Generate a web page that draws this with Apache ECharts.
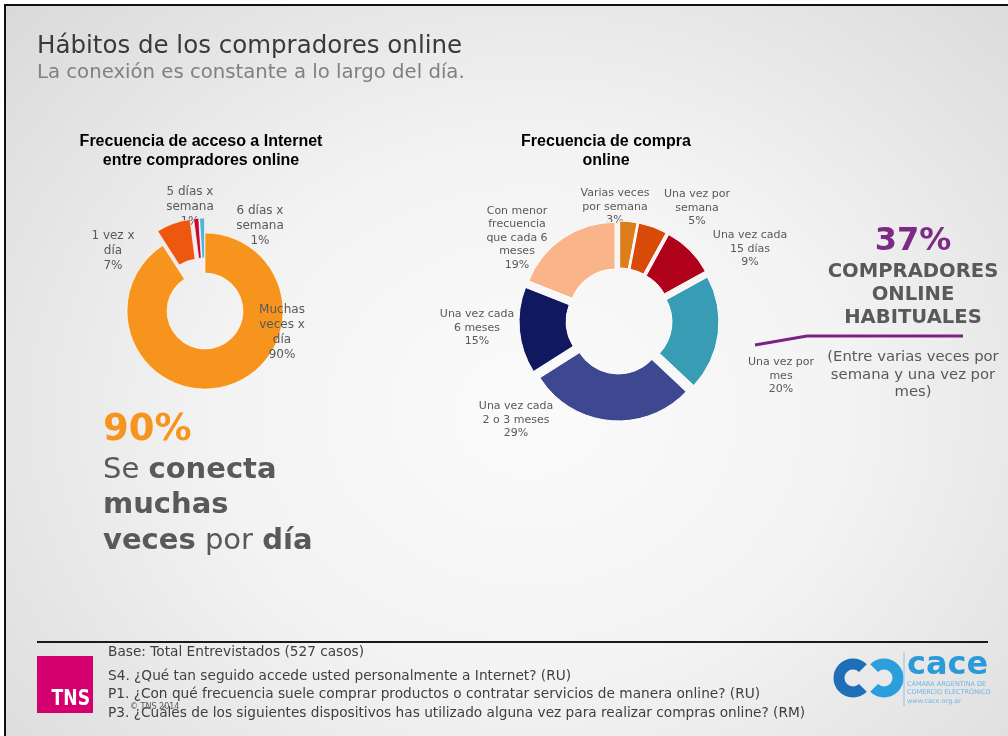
<!DOCTYPE html>
<html>
<head>
<meta charset="utf-8">
<title>Hábitos de los compradores online</title>
<script src="https://cdn.jsdelivr.net/npm/echarts@6/dist/echarts.min.js"></script>
<style>
html, body { margin: 0; padding: 0; width: 1008px; height: 736px; overflow: hidden; background: #fff; }
.slide {
    position: absolute; left: 4px; top: 4px; width: 1010px; height: 740px;
    border-left: 2px solid #111; border-top: 2px solid #111;
    background: radial-gradient(ellipse 70% 80% at 52% 55%, #fbfbfb 0%, #f3f3f3 45%, #dadada 100%);
}
#main { position: absolute; left: 0; top: 0; width: 1008px; height: 736px; }
</style>
</head>
<body>
<div class="slide"></div>
<div id="main"></div>
<script>
// datos: frecuencia de acceso a Internet
const accesoNombres = ['Muchas\nveces x\ndía', '1 vez x\ndía', '5 días x\nsemana', '6 días x\nsemana'];
const accesoValores = [90, 7, 1, 1];

// datos: frecuencia de compra online
const compraNombres = [
    'Varias veces\npor semana',
    'Una vez por\nsemana',
    'Una vez cada\n15 días',
    'Una vez por\nmes',
    'Una vez cada\n2 o 3 meses',
    'Una vez cada\n6 meses',
    'Con menor\nfrecuencia\nque cada 6\nmeses'
];
const compraValores = [3, 5, 9, 20, 29, 15, 19];

// estilo
const accesoColores = ['#F7941E', '#EE570F', '#C4082F', '#4DB6D6'];
const compraColores = ['#DC7F1B', '#D84A08', '#B0011B', '#389DB4', '#3D4891', '#10185F', '#F9B48A'];
const accesoSeparados = [false, true, true, true];
const accesoEtiquetas = [[282, 332], [113, 251], [190, 207], [260, 226]];
const compraEtiquetas = [[615, 207], [697, 208], [750, 249], [781, 376], [516, 420], [477, 328], [517, 238]];

const GRIS = '#595959';
const FUENTE = '"DejaVu Sans", Verdana, sans-serif';

const mychart = echarts.init(document.getElementById('main'));

const txt = (x, y, text, font, fill, align, extra) => ({
    type: 'text', x: x, y: y, silent: true,
    style: Object.assign({ text: text, font: font, fill: fill, align: align || 'left', verticalAlign: 'middle' }, extra || {})
});

// anillo con porciones separadas (sin etiquetas)
const anillo = (center, radius, offset, nombres, valores, colores, separados, borde) => ({
    type: 'pie',
    center: center,
    radius: radius,
    startAngle: 90,
    clockwise: true,
    selectedMode: 'multiple',
    selectedOffset: offset,
    silent: true,
    itemStyle: { borderColor: '#fff', borderWidth: borde },
    label: { show: false },
    labelLine: { show: false },
    data: nombres.map((n, i) => ({
        name: n, value: valores[i], selected: separados[i],
        itemStyle: { color: colores[i] }
    }))
});

// mismo anillo, transparente, solo para las etiquetas
const etiquetas = (center, radius, nombres, valores, pos, size, lh) => ({
    type: 'pie',
    center: center,
    radius: radius,
    startAngle: 90,
    clockwise: true,
    silent: true,
    avoidLabelOverlap: false,
    itemStyle: { color: 'transparent', borderWidth: 0 },
    label: {
        show: true, position: 'outside', color: GRIS,
        fontFamily: 'DejaVu Sans', fontSize: size, lineHeight: lh,
        formatter: p => p.name + '\n' + p.value + '%'
    },
    labelLine: { show: false },
    labelLayout: p => ({ x: pos[p.dataIndex][0], y: pos[p.dataIndex][1], align: 'center', verticalAlign: 'middle' }),
    data: nombres.map((n, i) => ({ name: n, value: valores[i] }))
});

const option = {
    animation: false,
    backgroundColor: 'transparent',
    series: [
        anillo([205, 311], [38, 78], 15, accesoNombres, accesoValores, accesoColores, accesoSeparados, 0.6),
        etiquetas([205, 311], [38, 78], accesoNombres, accesoValores, accesoEtiquetas, 12, 15),
        anillo([619, 321], [46, 93], 7, compraNombres, compraValores, compraColores, compraNombres.map(() => true), 1),
        etiquetas([619, 321], [46, 93], compraNombres, compraValores, compraEtiquetas, 11, 13.5)
    ],
    graphic: [
        // titulos
        txt(37, 47, 'Hábitos de los compradores online', '24.5px ' + FUENTE, '#3a3a3a'),
        txt(37, 73, 'La conexión es constante a lo largo del día.', '19.7px ' + FUENTE, '#808080'),
        txt(201, 151, 'Frecuencia de acceso a Internet\nentre compradores online', 'bold 16px "Liberation Sans", Arial, sans-serif', '#000', 'center', { lineHeight: 18.5 }),
        txt(606, 151, 'Frecuencia de compra\nonline', 'bold 16px "Liberation Sans", Arial, sans-serif', '#000', 'center', { lineHeight: 19 }),

        // bloque izquierdo
        txt(103, 430, '90%', 'bold 37px ' + FUENTE, '#F7941E'),
        txt(103, 470, 'Se {b|conecta}', '29px ' + FUENTE, GRIS, 'left', { rich: { b: { fontWeight: 'bold', fontSize: 29, fontFamily: 'DejaVu Sans', fill: GRIS } } }),
        txt(103, 505, '{b|muchas}', '29px ' + FUENTE, GRIS, 'left', { rich: { b: { fontWeight: 'bold', fontSize: 29, fontFamily: 'DejaVu Sans', fill: GRIS } } }),
        txt(103, 541, '{b|veces} por {b|día}', '29px ' + FUENTE, GRIS, 'left', { rich: { b: { fontWeight: 'bold', fontSize: 29, fontFamily: 'DejaVu Sans', fill: GRIS } } }),

        // bloque derecho
        {
            type: 'polyline', silent: true,
            shape: { points: [[755, 345], [807, 336], [963, 336]] },
            style: { stroke: '#7A2382', lineWidth: 3, fill: null }
        },
        txt(913, 242, '37%', 'bold 32px ' + FUENTE, '#7D2A85', 'center'),
        txt(913, 295, 'COMPRADORES\nONLINE\nHABITUALES', 'bold 19.6px ' + FUENTE, GRIS, 'center', { lineHeight: 23.3 }),
        txt(913, 375, '(Entre varias veces por\nsemana y una vez por\nmes)', '14.8px ' + FUENTE, GRIS, 'center', { lineHeight: 17.5 }),

        // pie de pagina
        { type: 'line', silent: true, shape: { x1: 37, y1: 642, x2: 988, y2: 642 }, style: { stroke: '#1a1a1a', lineWidth: 2 } },
        txt(108, 652, 'Base: Total Entrevistados (527 casos)', '13.7px ' + FUENTE, '#404040'),
        txt(108, 676, 'S4. ¿Qué tan seguido accede usted personalmente a Internet? (RU)', '13.7px ' + FUENTE, '#404040'),
        txt(108, 694, 'P1. ¿Con qué frecuencia suele comprar productos o contratar servicios de manera online? (RU)', '13.7px ' + FUENTE, '#404040'),
        txt(108, 713, 'P3. ¿Cuáles de los siguientes dispositivos has utilizado alguna vez para realizar compras online? (RM)', '13.7px ' + FUENTE, '#404040'),
        txt(130, 707, '© TNS 2014', '8px ' + FUENTE, GRIS),

        // logo TNS
        { type: 'rect', silent: true, shape: { x: 37, y: 656, width: 56, height: 57 }, style: { fill: '#D5006F' } },
        {
            type: 'text', silent: true, x: 90, y: 710, scaleX: 0.78,
            style: { text: 'TNS', font: 'bold 22px ' + FUENTE, fill: '#fff', align: 'right', verticalAlign: 'bottom' }
        },

        // logo CACE
        { type: 'arc', silent: true, shape: { cx: 853, cy: 678, r: 14, startAngle: Math.PI / 4, endAngle: Math.PI * 7 / 4, clockwise: true }, style: { stroke: '#1E6FB8', lineWidth: 11, fill: null } },
        { type: 'arc', silent: true, shape: { cx: 884, cy: 678, r: 14, startAngle: Math.PI * 5 / 4, endAngle: Math.PI * 11 / 4, clockwise: true }, style: { stroke: '#2A9FDC', lineWidth: 11, fill: null } },
        { type: 'line', silent: true, shape: { x1: 904, y1: 652, x2: 904, y2: 706 }, style: { stroke: '#8cc6ea', lineWidth: 1 } },
        txt(907, 666, 'cace', 'bold 32px ' + FUENTE, '#2A9BD8'),
        txt(907, 684, 'CÁMARA ARGENTINA DE', '6.5px ' + FUENTE, '#6fb7e3'),
        txt(907, 692, 'COMERCIO ELECTRÓNICO', '6.5px ' + FUENTE, '#6fb7e3'),
        txt(907, 701, 'www.cace.org.ar', '6.5px ' + FUENTE, '#6fb7e3')
    ]
};

mychart.setOption(option);

window.addEventListener('resize', () => {
    mychart.resize();
});
</script>
</body>
</html>
